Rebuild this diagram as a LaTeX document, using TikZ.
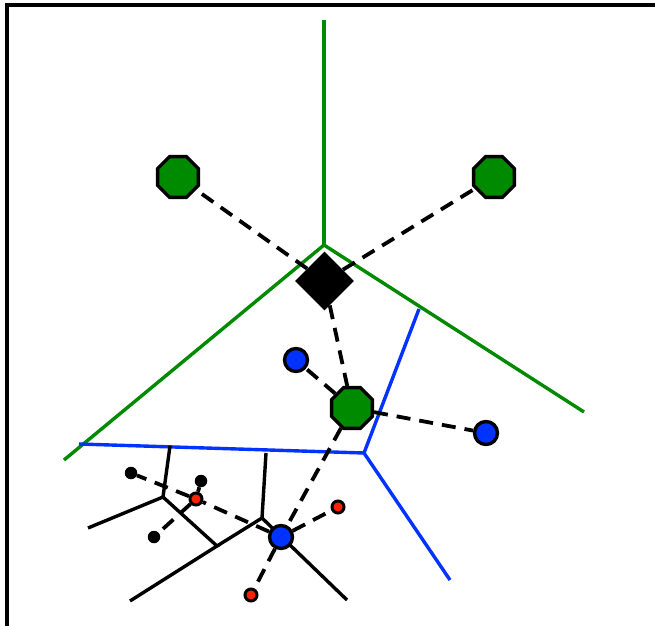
\documentclass[tikz,border=0pt]{standalone}
\usetikzlibrary{shapes.geometric}
\definecolor{vgreen}{RGB}{0,138,0}
\definecolor{vblue}{RGB}{0,51,255}
\definecolor{vred}{RGB}{255,34,0}
\tikzset{
  octa/.style={regular polygon, regular polygon sides=8, minimum size=44bp, inner sep=0pt, draw=black, line width=3.4bp, fill=vgreen},
  diam/.style={diamond, minimum width=59bp, minimum height=59bp, inner sep=0pt, fill=black},
  bdot/.style={circle, minimum size=23bp, inner sep=0pt, draw=black, line width=3.4bp, fill=vblue},
  rdot/.style={circle, minimum size=12bp, inner sep=0pt, draw=black, line width=3bp, fill=vred},
  kdot/.style={circle, minimum size=12.5bp, inner sep=0pt, fill=black},
  gline/.style={vgreen, line width=3.4bp},
  bline/.style={vblue, line width=3.4bp},
  kline/.style={black, line width=3.4bp},
  dline/.style={black, line width=3.8bp, dash pattern=on 14bp off 9bp},
}
\begin{document}
\begin{tikzpicture}[x=1bp,y=-1bp]
\fill[white] (0,0) rectangle (655,626);
\useasboundingbox (0,0) rectangle (655,626);
\fill[black] (5,3) rectangle (655,6.8);
\fill[black] (5,3) rectangle (8.6,626);
% coordinates
\coordinate (g0) at (324,20);
\coordinate (gc) at (324,245);
\coordinate (g1) at (64,460);
\coordinate (g2) at (584,412);
\coordinate (bc) at (364,453);
\coordinate (b1) at (79,444);
\coordinate (b2) at (419,309);
\coordinate (b3) at (450,580);
\coordinate (k1) at (170,446);
\coordinate (k2) at (163,497);
\coordinate (k3) at (88,528);
\coordinate (k4) at (217,546);
\coordinate (k5) at (130,601);
\coordinate (k6) at (262,518);
\coordinate (k7) at (266,453);
\coordinate (k8) at (347,600);
% voronoi lines
\draw[gline] (g0) -- (gc);
\draw[gline] (g1) -- (gc) -- (g2);
\draw[bline] (b1) -- (bc) -- (b2);
\draw[bline] (bc) -- (b3);
\draw[kline] (k1) -- (k2) -- (k3);
\draw[kline] (k2) -- (k4) -- (k5);
\draw[kline] (k4) -- (k6) -- (k7);
\draw[kline] (k6) -- (k8);
% nodes
\node[diam] (D) at (324.5,281) {};
\node[octa] (O1) at (178,177) {};
\node[octa] (O2) at (494,177) {};
\node[octa] (O3) at (352,408) {};
\node[bdot] (B1) at (296,360) {};
\node[bdot] (B2) at (486,433) {};
\node[bdot] (B3) at (281,537) {};
\node[rdot] (R1) at (196,499) {};
\node[rdot] (R2) at (338,507) {};
\node[rdot] (R3) at (251,595) {};
\node[kdot] (K1) at (131,473) {};
\node[kdot] (K2) at (201,481) {};
\node[kdot] (K3) at (154,537) {};
% dashed links
\draw[dline] (D) -- (O1);
\draw[dline] (D) -- (O2);
\draw[dline] (D) -- (O3);
\draw[dline] (O3) -- (B1);
\draw[dline] (O3) -- (B2);
\draw[dline] (O3) -- (B3);
\draw[dline] (B3) -- (R1);
\draw[dline] (B3) -- (R2);
\draw[dline] (B3) -- (R3);
\draw[dline] (R1) -- (K1);
\draw[dline] (R1) -- (K2);
\draw[dline] (R1) -- (K3);
\end{tikzpicture}
\end{document}
